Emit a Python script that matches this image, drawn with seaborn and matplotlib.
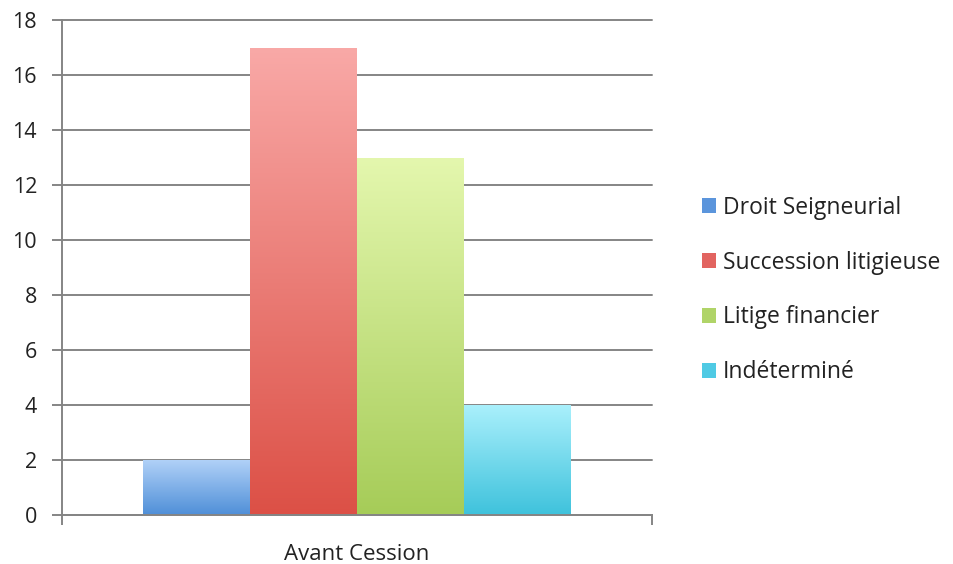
import numpy as np
import pandas as pd
import matplotlib
matplotlib.use("Agg")
import matplotlib.pyplot as plt
import seaborn as sns
from matplotlib.colors import LinearSegmentedColormap
from matplotlib.patches import Patch

categories = ["Avant Cession"]
series = ["Droit Seigneurial", "Succession litigieuse", "Litige financier", "Indéterminé"]
values = [2, 17, 13, 4]
y_ticks = [0, 2, 4, 6, 8, 10, 12, 14, 16, 18]

top_colors = ["#b2d2f8", "#f9a9a7", "#e4f7ae", "#aaf0fc"]
bottom_colors = ["#4f8fd8", "#dc5046", "#a6cc58", "#3ec2dc"]
legend_colors = ["#5b95dc", "#e26460", "#b0d468", "#4fcae4"]

df = pd.DataFrame({"periode": categories * len(series), "cause": series, "valeur": values})

sns.set_theme(style="white")
plt.rcParams['font.family'] = ['Open Sans', 'DejaVu Sans']

fig = plt.figure(figsize=(9.54, 5.64), dpi=100)
ax = fig.add_axes([62/954, 1 - 515/564, (652-62)/954, (515-20)/564])

sns.barplot(data=df, x="periode", y="valeur", hue="cause", hue_order=series,
            palette=legend_colors, width=0.725, gap=0, legend=False, ax=ax,
            linewidth=0, saturation=1)

ax.set_ylim(0, 18)
ax.set_xlim(-0.5, 0.5)
ax.set_yticks(y_ticks)
ax.set_xlabel("")
ax.set_ylabel("")

# gradient fill clipped to each bar
for bar, ct, cb in zip(ax.patches, top_colors, bottom_colors):
    x0, y0 = bar.get_x(), bar.get_y()
    w, h = bar.get_width(), bar.get_height()
    cmap = LinearSegmentedColormap.from_list("g", [cb, ct])
    grad = np.linspace(0, 1, 256).reshape(-1, 1)
    im = ax.imshow(grad, cmap=cmap, origin="lower", aspect="auto",
                   extent=[x0, x0 + w, y0, y0 + h], zorder=bar.get_zorder() + 0.1)
    im.set_clip_path(bar)
ax.set_xlim(-0.5, 0.5)
ax.set_ylim(0, 18)

ax.yaxis.grid(True, color="#858585", linewidth=1.4)
ax.set_axisbelow(True)
for gl in ax.get_ygridlines():
    gl.set_clip_on(False)

for s in ["top", "right"]:
    ax.spines[s].set_visible(False)
for s in ["left", "bottom"]:
    ax.spines[s].set_color("#858585")
    ax.spines[s].set_linewidth(1.4)

ax.tick_params(axis="y", which="major", left=True, length=7, width=1.4, color="#858585",
               pad=11, labelsize=15.5, labelcolor="#222222")
ax.tick_params(axis="x", which="major", length=0, pad=21, labelsize=16, labelcolor="#222222")
ax.set_xticks([-0.5, 0.5], minor=True)
ax.tick_params(axis="x", which="minor", bottom=True, length=7, width=1.4, color="#858585")

handles = [Patch(facecolor=c, edgecolor="none") for c in legend_colors]
fig.legend(handles, series, loc="center left", bbox_to_anchor=(702/954, 1 - 290/564),
           frameon=False, fontsize=16.5, handlelength=0.6, handleheight=0.6,
           handletextpad=0.3, labelspacing=1.35, labelcolor="#222222",
           borderpad=0, borderaxespad=0)

fig.savefig("out.png", dpi=100)
